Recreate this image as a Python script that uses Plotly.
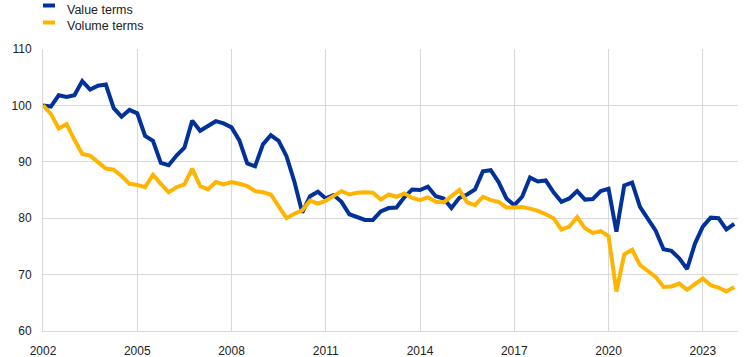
import plotly.graph_objects as go

start_year = 2002
value_terms = [
    100.0, 99.8, 101.8, 101.5, 101.8, 104.3, 102.8, 103.5, 103.7, 99.5, 98.0, 99.2,
    98.6, 94.6, 93.7, 89.8, 89.4, 91.1, 92.5, 97.3, 95.5, 96.3, 97.2, 96.8,
    96.1, 93.8, 89.7, 89.2, 93.1, 94.7, 93.7, 91.0, 86.5, 81.0, 83.9, 84.7,
    83.5, 84.1, 82.9, 80.7, 80.2, 79.7, 79.7, 81.2, 81.8, 81.9, 83.7, 85.1,
    85.0, 85.6, 83.9, 83.5, 81.8, 83.6, 84.2, 85.1, 88.3, 88.5, 86.4, 83.5,
    82.3, 83.8, 87.2, 86.5, 86.7, 84.6, 82.9, 83.5, 84.8, 83.3, 83.4, 84.8,
    85.2, 77.6, 85.8, 86.3, 82.0, 80.0, 77.8, 74.5, 74.2, 72.9, 71.0, 75.5,
    78.5, 80.1, 80.0, 78.0, 79.0,
]
volume_terms = [
    100.0, 98.5, 95.9, 96.7, 93.9, 91.4, 91.1, 90.0, 88.8, 88.6, 87.5, 86.1,
    85.9, 85.5, 87.7, 86.1, 84.6, 85.5, 86.0, 88.8, 85.7, 85.1, 86.4, 86.0,
    86.4, 86.1, 85.7, 84.8, 84.6, 84.2, 82.2, 80.0, 80.8, 81.4, 83.1, 82.6,
    83.1, 83.9, 84.8, 84.2, 84.5, 84.6, 84.5, 83.3, 84.2, 83.8, 84.4, 83.6,
    83.2, 83.7, 82.9, 82.8, 83.8, 85.0, 82.8, 82.3, 83.8, 83.2, 82.9, 81.9,
    81.9, 82.0, 81.7, 81.3, 80.7, 80.0, 78.0, 78.5, 80.2, 78.2, 77.4, 77.7,
    76.8, 67.0, 73.6, 74.4, 71.7, 70.6, 69.6, 67.8, 67.9, 68.4, 67.3, 68.3,
    69.3, 68.1, 67.7, 67.0, 67.8,
]
x_ticks = [2002, 2005, 2008, 2011, 2014, 2017, 2020, 2023]
y_ticks = [60, 70, 80, 90, 100, 110]
series_names = ["Value terms", "Volume terms"]
colors = ["#003299", "#FFB400"]

quarters = [start_year + i / 4 for i in range(len(value_terms))]

fig = go.Figure()
for name, vals, col in zip(series_names, [value_terms, volume_terms], colors):
    fig.add_trace(go.Scatter(x=quarters, y=vals, mode="lines", name=name,
                             line=dict(color=col, width=4), showlegend=False))

W, H = 744, 357
ml, mr, mt, mb = 43, 6, 49, 26
pw, ph = W - ml - mr, H - mt - mb

def px(x):
    return (x - ml) / pw

def py(y):
    return (H - mb - y) / ph

shapes = []
annotations = []
for k, (name, col) in enumerate(zip(series_names, colors)):
    yline = 5.5 + k * 17
    ytext = 9.5 + k * 16
    shapes.append(dict(type="line", xref="paper", yref="paper",
                       x0=px(43), x1=px(55), y0=py(yline), y1=py(yline),
                       line=dict(color=col, width=4)))
    annotations.append(dict(text=name, xref="paper", yref="paper",
                            x=px(65), y=py(ytext), xanchor="left", yanchor="middle",
                            showarrow=False,
                            font=dict(size=12.5, color="#222222",
                                      family="Liberation Sans, Arial, sans-serif")))

grid = "#d9d9d9"
fig.update_layout(
    width=W, height=H,
    margin=dict(l=ml, r=mr, t=mt, b=mb, autoexpand=False),
    plot_bgcolor="white", paper_bgcolor="white",
    font=dict(family="Liberation Sans, Arial, sans-serif", size=12, color="#222222"),
    shapes=shapes, annotations=annotations,
    xaxis=dict(range=[2002, 2024.12], tickvals=x_ticks, ticktext=[str(t) for t in x_ticks],
               showgrid=True, gridcolor=grid, gridwidth=1, zeroline=False,
               showline=True, linecolor=grid, linewidth=1, ticks="",
               ticklabelstandoff=9, automargin=False),
    yaxis=dict(range=[60, 110], tickvals=y_ticks, showgrid=True, gridcolor=grid,
               gridwidth=1, zeroline=False, showline=True, linecolor=grid, linewidth=1,
               ticks="", ticklabelstandoff=8, automargin=False),
)

fig.write_html("out.html", config={"displayModeBar": False},
               post_script="document.body.style.margin='0';document.body.style.overflow='hidden';")
